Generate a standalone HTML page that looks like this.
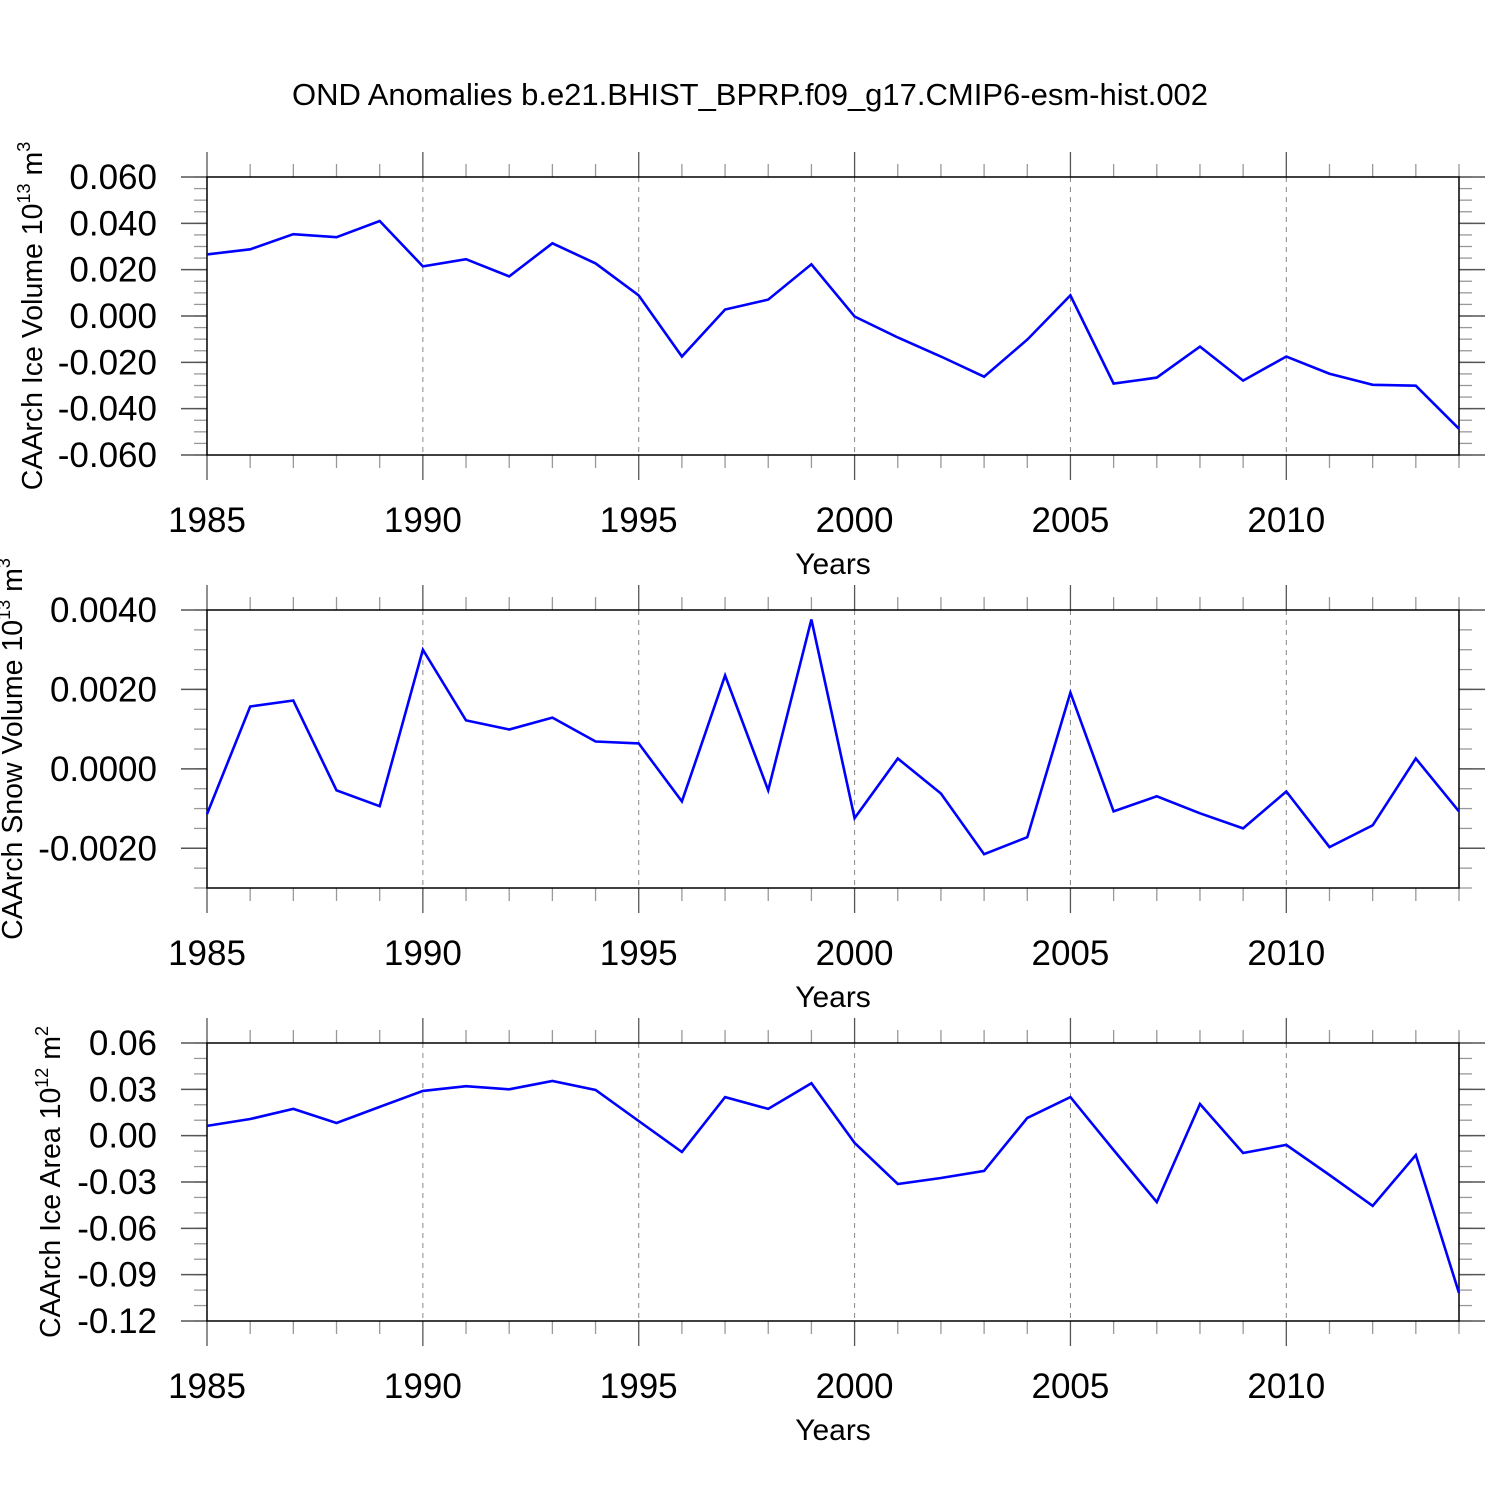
<!DOCTYPE html>
<html><head><meta charset="utf-8"><style>
body{margin:0;background:#fff}
svg text{font-family:"Liberation Sans",sans-serif;fill:#000}
</style></head><body>
<svg id="chart" width="1500" height="1500" xmlns="http://www.w3.org/2000/svg">
<rect width="1500" height="1500" fill="#fff"/>
<text x="750" y="105" font-size="31" text-anchor="middle">OND Anomalies b.e21.BHIST_BPRP.f09_g17.CMIP6-esm-hist.002</text>
</svg>
<script>
const years = [1985,1986,1987,1988,1989,1990,1991,1992,1993,1994,1995,1996,1997,1998,1999,2000,2001,2002,2003,2004,2005,2006,2007,2008,2009,2010,2011,2012,2013,2014];
const iceVolume = [0.0266,0.0288,0.0353,0.034,0.041,0.0214,0.0245,0.0171,0.0314,0.0227,0.0089,-0.0175,0.0028,0.0071,0.0223,-0.0002,-0.0093,-0.0175,-0.0262,-0.0102,0.0089,-0.0292,-0.0266,-0.0132,-0.0279,-0.0175,-0.0249,-0.0297,-0.0301,-0.0487];
const snowVolume = [-0.00114,0.00157,0.00172,-0.00054,-0.00094,0.0030,0.00122,0.00099,0.00129,0.00069,0.00064,-0.00082,0.00235,-0.00054,0.00376,-0.00124,0.00026,-0.00062,-0.00215,-0.00172,0.00192,-0.00107,-0.00069,-0.00112,-0.0015,-0.00057,-0.00197,-0.00142,0.00026,-0.00107];
const iceArea = [0.0063,0.0108,0.0173,0.0082,0.0186,0.029,0.032,0.030,0.0354,0.0296,0.0095,-0.0106,0.025,0.0173,0.034,-0.0047,-0.0313,-0.0274,-0.0228,0.0115,0.025,-0.0093,-0.043,0.0205,-0.0112,-0.006,-0.0255,-0.0455,-0.0125,-0.1019];
const xTickLabels = ["1985","1990","1995","2000","2005","2010"];
const volTicks = ["0.060","0.040","0.020","0.000","-0.020","-0.040","-0.060"];
const snowTicks = ["0.0040","0.0020","0.0000","-0.0020"];
const areaTicks = ["0.06","0.03","0.00","-0.03","-0.06","-0.09","-0.12"];

const NS="http://www.w3.org/2000/svg";
const svg=document.getElementById('chart');
function mk(tag,attrs,parent){const e=document.createElementNS(NS,tag);for(const k in attrs)e.setAttribute(k,attrs[k]);(parent||svg).appendChild(e);return e;}
const X0=207,X1=1459;
const xs=y=>X0+(y-1985)/(2014-1985)*(X1-X0);

function panel(name,top,bot,ymin,ymax,minorStep,ticks,data,titleX,titleHTML){
  const g=mk('g',{});
  
  
  const ys=v=>bot-(v-ymin)/(ymax-ymin)*(bot-top);
  for(let yr=1990;yr<=2010;yr+=5){
    const l=mk('line',{x1:xs(yr),x2:xs(yr),y1:top,y2:bot,stroke:'#888','stroke-width':1,'stroke-dasharray':'5,5'},g);
    
    
  }
  for(let yr=1985;yr<=2014;yr++){
    const maj=yr%5===0, len=maj?25:13, c=maj?'#555':'#999';
    mk('line',{x1:xs(yr),x2:xs(yr),y1:top-len,y2:top,stroke:c,'stroke-width':1.3},g);
    mk('line',{x1:xs(yr),x2:xs(yr),y1:bot,y2:bot+len,stroke:c,'stroke-width':1.3},g);
  }
  xTickLabels.forEach(s=>{
    const t=mk('text',{x:xs(+s),y:bot+77,'font-size':35,'text-anchor':'middle'},g);
    t.textContent=s;
    
    
  });
  const xt=mk('text',{x:833,y:bot+119,'font-size':30,'text-anchor':'middle'},g);
  xt.textContent='Years';
  
  
  const n=Math.round((ymax-ymin)/minorStep);
  for(let i=0;i<=n;i++){
    const y=ys(ymin+i*minorStep);
    mk('line',{x1:X0-13,x2:X0,y1:y,y2:y,stroke:'#999','stroke-width':1.3},g);
    mk('line',{x1:X1,x2:X1+13,y1:y,y2:y,stroke:'#999','stroke-width':1.3},g);
  }
  ticks.forEach(s=>{
    const y=ys(parseFloat(s));
    mk('line',{x1:X0-26,x2:X0,y1:y,y2:y,stroke:'#555','stroke-width':1.5},g);
    mk('line',{x1:X1,x2:X1+26,y1:y,y2:y,stroke:'#555','stroke-width':1.5},g);
    const t=mk('text',{x:157,y:y+12,'font-size':35,'text-anchor':'end'},g);
    t.textContent=s;
    
    
  });
  mk('rect',{x:X0,y:top,width:X1-X0,height:bot-top,fill:'none',stroke:'#000','stroke-width':1.5},g);
  const pts=data.map((v,i)=>xs(years[i]).toFixed(1)+','+ys(v).toFixed(1)).join(' ');
  const pl=mk('polyline',{points:pts,fill:'none',stroke:'#0000ff','stroke-width':2.6},g);
  
  
  const cy=(top+bot)/2;
  const tt=mk('text',{x:titleX,y:cy,'font-size':28.5,'text-anchor':'middle',transform:`rotate(-90 ${titleX} ${cy})`,dy:'0.35em'},g);
  tt.innerHTML=titleHTML;
  
  
}
panel('ice-volume',177,455,-0.06,0.06,0.005,volTicks,iceVolume,32,'CAArch Ice Volume 10<tspan dy="-12" font-size="18">13</tspan><tspan dy="12"> m</tspan><tspan dy="-12" font-size="18">3</tspan>');
panel('snow-volume',610,888,-0.003,0.004,0.0005,snowTicks,snowVolume,12,'CAArch Snow Volume 10<tspan dy="-12" font-size="18">13</tspan><tspan dy="12"> m</tspan><tspan dy="-12" font-size="18">3</tspan>');
panel('ice-area',1043,1321,-0.12,0.06,0.01,areaTicks,iceArea,50,'CAArch Ice Area 10<tspan dy="-12" font-size="18">12</tspan><tspan dy="12"> m</tspan><tspan dy="-12" font-size="18">2</tspan>');
</script>
</body></html>
